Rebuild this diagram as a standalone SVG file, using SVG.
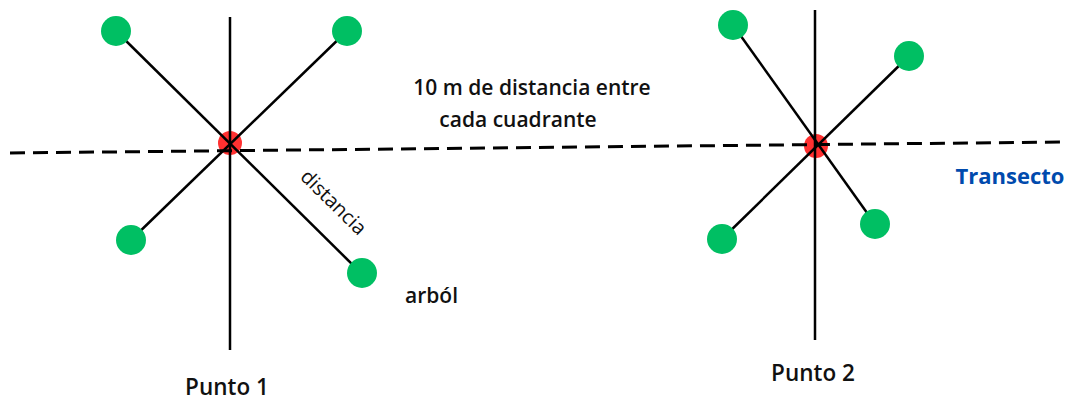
<svg xmlns="http://www.w3.org/2000/svg" width="1076" height="400" viewBox="0 0 1076 400">
<style>
.ln{stroke:#000;stroke-width:2.5;fill:none}
.dash{stroke:#000;stroke-width:3;stroke-dasharray:15 8;fill:none}
.tree{fill:#00bf63}
.pt{fill:#ff3131}
.t{font-family:"Open Sans","Liberation Sans",sans-serif;font-size:21px;fill:#111;font-weight:600}
.d{font-family:"Open Sans","Liberation Sans",sans-serif;font-size:20px;fill:#111}
.p{font-family:"Open Sans","Liberation Sans",sans-serif;font-size:22.5px;fill:#111;font-weight:600}
.tr{font-family:"Open Sans","Liberation Sans",sans-serif;font-size:22px;fill:#004aad;font-weight:700}
</style>
<rect width="1076" height="400" fill="#fff"/>
<g id="punto1">
<circle class="pt" cx="230" cy="143" r="12"/>
<text class="p" x="227" y="395" text-anchor="middle">Punto 1</text>
</g>
<g id="punto2">
<circle class="pt" cx="816" cy="146" r="12"/>
<text class="p" x="813" y="381" text-anchor="middle">Punto 2</text>
</g>
<g id="connectors">
<line class="dash" x1="10" y1="153" x2="1062" y2="142"/>
<line class="ln" x1="230" y1="17" x2="230" y2="350"/>
<line class="ln" x1="116" y1="31" x2="361" y2="273"/>
<line class="ln" x1="347" y1="31" x2="131" y2="240"/>
<line class="ln" x1="815" y1="10" x2="815" y2="340"/>
<line class="ln" x1="733" y1="25" x2="875" y2="224"/>
<line class="ln" x1="909" y1="56" x2="722" y2="239"/>
</g>
<g id="arbol1"><circle class="tree" cx="116" cy="31" r="15"/></g>
<g id="arbol2"><circle class="tree" cx="347" cy="31" r="15"/></g>
<g id="arbol3"><circle class="tree" cx="131" cy="240" r="15"/></g>
<g id="arbol4"><circle class="tree" cx="362" cy="273" r="15"/></g>
<g id="arbol5"><circle class="tree" cx="733" cy="25" r="15"/></g>
<g id="arbol6"><circle class="tree" cx="909" cy="56" r="15"/></g>
<g id="arbol7"><circle class="tree" cx="722" cy="239" r="15"/></g>
<g id="arbol8"><circle class="tree" cx="875" cy="224" r="15"/></g>
<g id="labels">
<text class="t" x="532" y="95" text-anchor="middle">10 m de distancia entre</text>
<text class="t" x="518" y="127" text-anchor="middle">cada cuadrante</text>
<text class="t" x="405" y="303">arból</text>
<text class="d" transform="translate(326,210) rotate(44.5)" text-anchor="middle" y="-4">distancia</text>
<text class="tr" x="1010" y="184" text-anchor="middle">Transecto</text>
</g>
</svg>
